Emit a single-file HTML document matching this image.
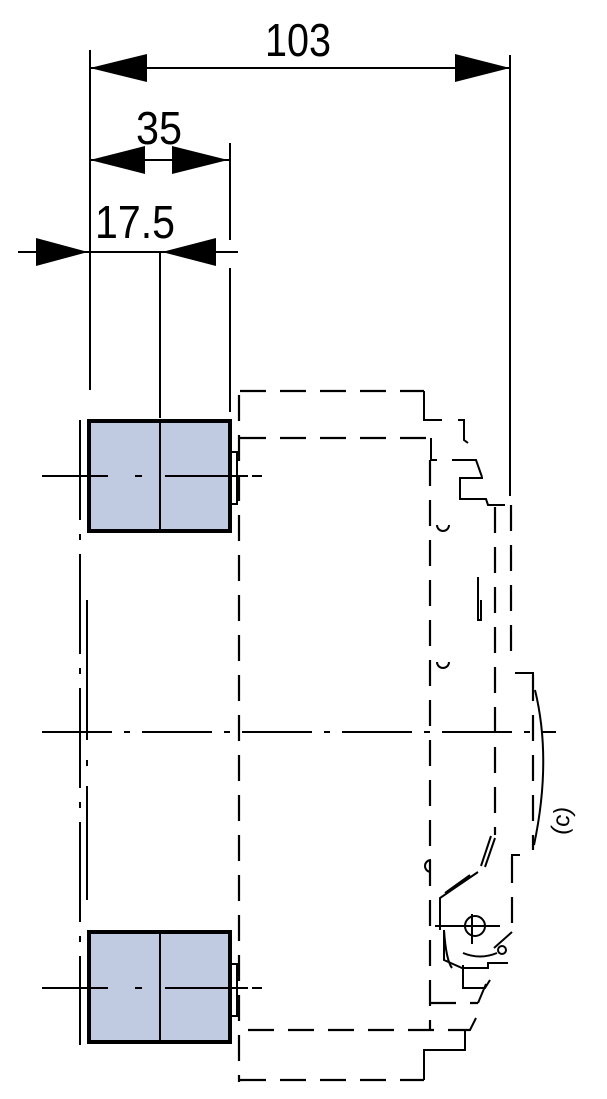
<!DOCTYPE html>
<html><head><meta charset="utf-8"><style>body{margin:0;background:#fff}svg{display:block}</style></head><body>
<svg width="607" height="1099" viewBox="0 0 607 1099" xmlns="http://www.w3.org/2000/svg">
<g stroke="#000" fill="none" stroke-width="2">
<line x1="90" y1="50" x2="90" y2="390"/>
<line x1="160" y1="252" x2="160" y2="418"/>
<line x1="230" y1="143" x2="230" y2="240"/>
<line x1="230" y1="268" x2="230" y2="412"/>
<line x1="510" y1="55" x2="510" y2="496"/>
<line x1="90" y1="68" x2="510" y2="68"/>
<line x1="90" y1="160" x2="230" y2="160"/>
<line x1="18" y1="252" x2="238" y2="252"/>
</g>
<g fill="#000">
<polygon points="90,68 147,54 147,82"/>
<polygon points="510,68 455,54 455,82"/>
<polygon points="90,160 145,146 145,174"/>
<polygon points="228,160 172,146 172,174"/>
<polygon points="88,252 36,238 36,266"/>
<polygon points="162,252 216,238 216,266"/>
</g>
<g font-family="Liberation Sans, sans-serif" font-size="46" fill="#000" text-anchor="middle">
<text x="298" y="56" textLength="66" lengthAdjust="spacingAndGlyphs">103</text>
<text x="159" y="144" textLength="46" lengthAdjust="spacingAndGlyphs">35</text>
<text x="135" y="238" textLength="80" lengthAdjust="spacingAndGlyphs">17.5</text>
</g>
<g stroke="#000" stroke-width="4" fill="#c0cbe2">
<rect x="89" y="421" width="141" height="110"/>
<rect x="89" y="932" width="141" height="110"/>
</g>
<g stroke="#000" stroke-width="2">
<line x1="160" y1="421" x2="160" y2="531"/>
<line x1="160" y1="932" x2="160" y2="1042"/>
</g>
<g stroke="#000" stroke-width="2" fill="none">
<line x1="42" y1="476" x2="108" y2="476"/>
<line x1="135" y1="476" x2="142" y2="476"/>
<line x1="165" y1="476" x2="248" y2="476"/>
<line x1="252" y1="476" x2="262" y2="476"/>
<line x1="42" y1="988" x2="108" y2="988"/>
<line x1="135" y1="988" x2="142" y2="988"/>
<line x1="165" y1="988" x2="248" y2="988"/>
<line x1="252" y1="988" x2="262" y2="988"/>
<line x1="42" y1="732" x2="556" y2="732" stroke-dasharray="70,12,6,12"/>
<line x1="80" y1="420" x2="80" y2="1045" stroke-dasharray="100,14,6,14"/>
<line x1="87" y1="600" x2="87" y2="900" stroke-dasharray="140,20,6,20"/>
<rect x="231" y="452" width="6" height="52" stroke-width="2"/>
<rect x="231" y="964" width="6" height="52" stroke-width="2"/>
</g>
<g stroke="#000" stroke-width="2.2" fill="none" stroke-dasharray="26,14">
<line x1="240" y1="391" x2="424" y2="391"/>
<line x1="240" y1="438" x2="431" y2="438"/>
<line x1="239" y1="395" x2="239" y2="1082"/>
<line x1="430" y1="460" x2="430" y2="1030"/>
<line x1="248" y1="1030" x2="470" y2="1030"/>
<line x1="240" y1="1080" x2="424" y2="1080"/>
<line x1="495" y1="507" x2="495" y2="835"/>
<line x1="511" y1="505" x2="511" y2="662"/>
<line x1="533" y1="675" x2="533" y2="850"/>
<line x1="512" y1="857" x2="512" y2="930"/>
<line x1="430" y1="1003" x2="478" y2="1003"/>
</g>
<g stroke="#000" stroke-width="2" fill="none">
<polyline points="424,391 424,420 442,420"/>
<polyline points="458,420 464,420 464,440 468,443"/>
<polyline points="431,438 431,460 437,460"/>
<polyline points="452,460 476,460 482,477"/>
<polyline points="483,478 460,478 460,499 486,499 488,505 505,505"/>
<polyline points="515,673 533,673 533,685"/>
<path d="M535,690 Q552,760 534,845"/>
<polyline points="512,865 512,855 520,855"/>
<path d="M495,838 L485,867 M491,836 L481,866"/>
<path d="M478,872 L440,898 L440,930 M470,875 L445,893"/>
<path d="M444,930 L444,960 L462,968 L488,968 L488,963 L508,963 M444,930 Q446,960 452,968"/>
<circle cx="475" cy="926" r="10"/>
<line x1="435" y1="926" x2="500" y2="926"/>
<line x1="472" y1="914" x2="472" y2="944"/>
<path d="M463,953 Q480,960 497,953"/>
<circle cx="502" cy="950" r="4"/>
<line x1="494" y1="948" x2="512" y2="932"/>
<polyline points="463,965 463,988 485,988 490,980"/>
<polyline points="478,1003 486,984"/>
<polyline points="466,1030 470,1030 476,1018"/>
<polyline points="424,1080 424,1050 465,1050 465,1030"/>
<path d="M431,860 A6,6 0 0 0 431,872"/>
<path d="M437,525 A6,6 0 0 0 449,525"/>
<path d="M437,662 A6,6 0 0 0 449,662"/>
<path d="M478,577 L478,620 L481,620 L481,600"/>
</g>
<text x="569" y="822" font-family="Liberation Sans, sans-serif" font-size="24" transform="rotate(-80 569 822)" text-anchor="middle">(c)</text>
</svg>
</body></html>
